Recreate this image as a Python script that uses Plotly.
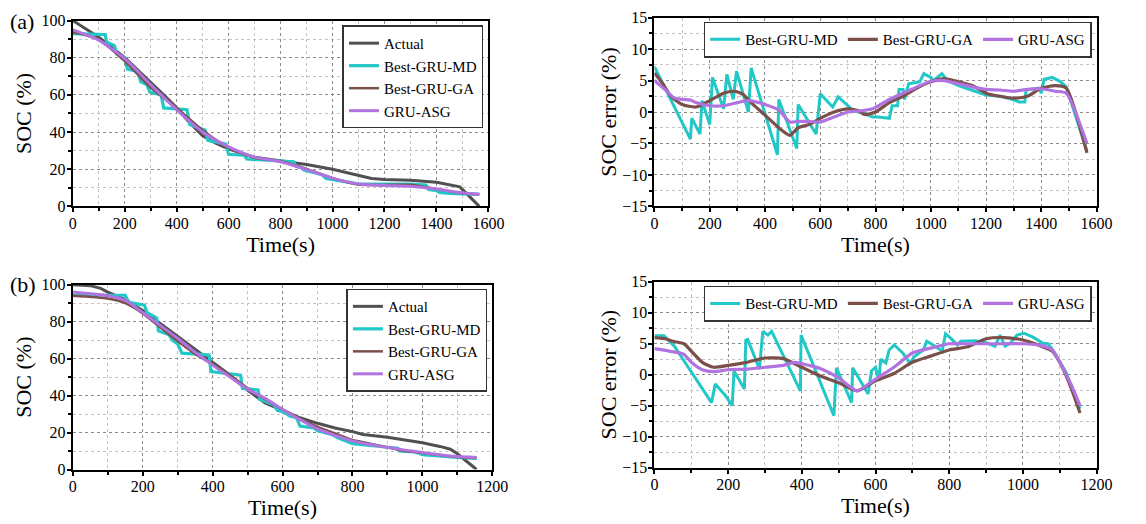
import plotly.graph_objects as go

# ---------------- Panel (a) SOC ----------------
a_act_t = [0, 100, 200, 300, 350, 400, 450, 500, 550, 600, 650, 700, 800, 900, 1000, 1100, 1150, 1200, 1300, 1400, 1490, 1565]
a_act_v = [100, 91, 80, 67, 60, 53, 45, 38, 34, 31, 28.5, 26.5, 24.5, 22.5, 20, 16.5, 15, 14.5, 14, 13, 10.5, 0]

a_md_t = [0, 125, 130, 160, 170, 200, 210, 250, 262, 285, 297, 340, 350, 440, 450, 510, 520, 590, 600, 660, 670, 750, 800, 850, 860, 880, 890, 920, 960, 975, 1000, 1040, 1060, 1100, 1200, 1300, 1360, 1370, 1400, 1410, 1450, 1500, 1565]
a_md_v = [93, 92.5, 88.5, 86.5, 82, 80, 74, 72.5, 67, 65.5, 61.5, 60, 53, 52, 44, 41, 35.5, 33.5, 28, 27.5, 25.5, 25, 24.5, 24, 21.5, 21, 19.5, 18.5, 17, 15, 14.5, 13.5, 13, 12, 12, 12, 11.5, 9, 8.5, 7.5, 7, 6.8, 6.5]

a_ga_t = [0, 100, 200, 300, 400, 500, 600, 700, 800, 900, 1000, 1100, 1200, 1300, 1400, 1490, 1565]
a_ga_v = [93.8, 89.8, 78.2, 64, 53, 41, 31.5, 26.2, 24.3, 20.2, 15.2, 11.7, 11.5, 11.6, 9.3, 7.2, 6.5]

a_asg_t = [0, 100, 200, 300, 400, 500, 600, 700, 800, 900, 1000, 1100, 1200, 1300, 1400, 1490, 1565]
a_asg_v = [95, 89.5, 79.5, 65.5, 52, 40, 32, 26.5, 24, 19.8, 15.2, 12, 11.2, 10.8, 9.3, 7.5, 6.5]

# ---------------- Panel (a) SOC error ----------------
ae_md_t = [0, 130, 135, 165, 172, 200, 210, 250, 262, 285, 297, 340, 350, 445, 450, 515, 520, 585, 600, 645, 665, 720, 760, 790, 810, 850, 860, 880, 885, 900, 905, 920, 960, 975, 1000, 1010, 1040, 1060, 1100, 1150, 1200, 1250, 1280, 1320, 1340, 1345, 1390, 1400, 1410, 1440, 1470, 1490, 1565]
ae_md_v = [7.2, -4.3, -1.0, -3.5, 1.8, -2.0, 5.5, 0.5, 6.0, 2.0, 6.5, 0.0, 7.0, -6.8, 2.0, -5.8, 1.2, -3.5, 2.9, 0.8, 2.4, 0.2, -0.3, -0.8, -0.8, -1.0, 1.0, 1.0, 3.6, 3.6, 2.0, 4.5, 4.8, 6.1, 5.5, 5.0, 6.1, 5.0, 4.2, 3.5, 2.7, 2.5, 2.2, 1.6, 1.6, 3.5, 3.8, 3.0, 5.2, 5.5, 4.8, 4.0, -6.2]

ae_ga_t = [0, 30, 60, 100, 150, 200, 250, 290, 320, 350, 400, 450, 490, 520, 560, 600, 650, 700, 740, 760, 800, 850, 900, 950, 1000, 1050, 1100, 1150, 1200, 1250, 1300, 1350, 1400, 1450, 1490, 1565]
ae_ga_v = [6.2, 4.5, 2.5, 1.2, 0.8, 1.8, 3.0, 3.3, 2.8, 1.5, -0.5, -2.5, -3.7, -2.5, -2.0, -1.0, 0.0, 0.5, 0.2, -0.4, 0.0, 1.5, 2.5, 3.8, 4.8, 5.3, 4.8, 4.2, 3.0, 2.5, 2.2, 2.5, 3.8, 4.2, 3.8, -6.5]

ae_asg_t = [0, 40, 70, 100, 130, 150, 200, 250, 300, 340, 400, 450, 490, 520, 560, 600, 650, 700, 750, 790, 850, 900, 950, 1000, 1050, 1100, 1150, 1200, 1250, 1300, 1350, 1400, 1450, 1490, 1565]
ae_asg_v = [5.0, 3.5, 2.3, 2.0, 1.9, 1.5, 1.0, 1.0, 1.5, 1.8, 1.2, 0.3, -1.6, -1.5, -1.5, -1.6, -0.8, 0.0, 0.2, 0.5, 2.0, 3.0, 4.0, 4.9, 5.0, 4.5, 4.0, 3.6, 3.5, 3.3, 3.6, 3.7, 3.3, 3.0, -5.0]

# ---------------- Panel (b) SOC ----------------
b_act_t = [0, 50, 80, 100, 150, 200, 250, 300, 350, 400, 450, 500, 550, 600, 650, 700, 750, 800, 830, 850, 900, 950, 1000, 1050, 1080, 1100, 1130, 1155]
b_act_v = [100, 99.5, 98, 96, 92, 86, 79, 72, 65, 58, 51, 43, 36, 32, 28, 25, 22.5, 20.5, 19, 18.5, 17.5, 16, 14.5, 12.5, 11, 8.5, 4, 0]

b_md_t = [0, 150, 160, 205, 212, 240, 245, 275, 285, 300, 312, 390, 395, 480, 485, 530, 535, 575, 585, 605, 620, 640, 650, 690, 700, 740, 760, 790, 800, 850, 900, 930, 935, 980, 1000, 1050, 1100, 1155]
b_md_v = [94.3, 94.3, 90.5, 89, 85, 82, 75, 73, 70, 68, 63, 62, 53, 51, 44, 43, 38, 35, 32, 31, 29, 28, 23.5, 22.5, 21, 19, 17, 15, 14, 13, 12, 11.5, 10, 9.5, 8, 7.2, 6.5, 6]

b_ga_t = [0, 100, 150, 200, 250, 300, 350, 400, 450, 500, 550, 600, 650, 700, 750, 800, 850, 900, 950, 1000, 1050, 1100, 1155]
b_ga_v = [94, 92.5, 90, 84.5, 77, 69.5, 62.5, 57, 51, 44, 38, 32.5, 27.5, 23, 19.5, 16, 14, 12, 10, 9, 7.8, 6.8, 6.2]

b_asg_t = [0, 100, 150, 200, 250, 300, 350, 400, 450, 500, 550, 600, 650, 700, 750, 800, 850, 900, 950, 1000, 1050, 1100, 1155]
b_asg_v = [96, 94, 91.5, 85, 78, 71, 63.5, 56.5, 50, 43.5, 38.5, 32.5, 27, 22, 18.5, 15.5, 13.5, 12, 10.5, 9.2, 8, 7, 6.5]

# ---------------- Panel (b) SOC error ----------------
be_md_t = [0, 26, 54, 155, 165, 193, 211, 216, 244, 248, 253, 285, 294, 308, 318, 396, 398, 487, 494, 535, 538, 580, 589, 600, 609, 614, 628, 637, 651, 674, 693, 707, 730, 739, 762, 781, 790, 804, 822, 831, 869, 896, 924, 938, 952, 966, 984, 1003, 1026, 1054, 1068, 1081, 1118, 1155]
be_md_v = [6.3, 6.3, 4.6, -4.5, -1.5, -3.4, -5.0, 0.6, -2.3, 5.6, 5.7, 0.9, 7.0, 6.4, 7.0, -2.6, 6.4, -6.6, 1.1, -4.5, 1.1, -3.1, 0.6, 1.2, -1.0, 2.5, 1.9, 4.0, 4.8, 3.5, 1.9, 3.0, 4.0, 5.4, 4.6, 3.8, 6.6, 5.9, 4.8, 5.4, 5.5, 5.3, 4.6, 6.4, 4.6, 5.1, 6.4, 6.7, 6.1, 5.1, 5.0, 4.0, 0.3, -5.5]

be_ga_t = [0, 30, 50, 80, 100, 130, 160, 200, 250, 300, 350, 400, 450, 500, 550, 600, 650, 700, 750, 800, 850, 900, 950, 1000, 1050, 1080, 1100, 1130, 1155]
be_ga_v = [6.0, 5.8, 5.4, 5.0, 3.8, 2.0, 1.2, 1.5, 2.0, 2.7, 2.6, 1.2, -0.2, -1.3, -2.6, -1.0, 0.2, 2.0, 3.0, 4.0, 4.5, 5.8, 6.0, 5.6, 4.6, 3.8, 2.0, -2.0, -6.2]

be_asg_t = [0, 40, 80, 100, 130, 160, 200, 250, 300, 350, 380, 420, 450, 500, 550, 600, 650, 700, 750, 800, 850, 900, 950, 1000, 1050, 1080, 1100, 1130, 1155]
be_asg_v = [4.2, 3.8, 3.3, 2.0, 0.8, 0.5, 0.8, 0.9, 1.2, 1.5, 2.0, 1.5, 1.0, -0.5, -2.6, -0.7, 1.2, 3.5, 4.3, 5.0, 5.0, 5.0, 5.0, 5.0, 4.7, 4.0, 2.0, -1.5, -5.0]

names = ["Actual", "Best-GRU-MD", "Best-GRU-GA", "GRU-ASG"]
colors = ["#505050", "#22C7C7", "#7B4F4A", "#B073E0"]
FONT = "Liberation Serif"

W, H = 1146, 524

def fx(px):
    return px / W

def fy(py):
    return 1 - py / H

fig = go.Figure()

def add(x, y, i, xa, ya, leg, smooth=False, w=3):
    fig.add_trace(go.Scatter(
        x=x, y=y, mode="lines", name=names[i],
        line=dict(color=colors[i], width=w, shape="spline" if smooth else "linear", smoothing=0.6),
        xaxis=xa, yaxis=ya, legend=leg))

# (a) SOC
add(a_act_t, a_act_v, 0, "x", "y", "legend")
add(a_md_t, a_md_v, 1, "x", "y", "legend", w=3.2)
add(a_ga_t, a_ga_v, 2, "x", "y", "legend", smooth=True, w=2.5)
add(a_asg_t, a_asg_v, 3, "x", "y", "legend", smooth=True)
# (a) error
add(ae_md_t, ae_md_v, 1, "x2", "y2", "legend2")
add(ae_ga_t, ae_ga_v, 2, "x2", "y2", "legend2", smooth=True, w=3.2)
add(ae_asg_t, ae_asg_v, 3, "x2", "y2", "legend2", smooth=True, w=3.2)
# (b) SOC
add(b_act_t, b_act_v, 0, "x3", "y3", "legend3")
add(b_md_t, b_md_v, 1, "x3", "y3", "legend3", w=3.2)
add(b_ga_t, b_ga_v, 2, "x3", "y3", "legend3", smooth=True, w=2.5)
add(b_asg_t, b_asg_v, 3, "x3", "y3", "legend3", smooth=True)
# (b) error
add(be_md_t, be_md_v, 1, "x4", "y4", "legend4")
add(be_ga_t, be_ga_v, 2, "x4", "y4", "legend4", smooth=True, w=3.2)
add(be_asg_t, be_asg_v, 3, "x4", "y4", "legend4", smooth=True, w=3.2)

def common(dom, anchor, rng, dt, minor_step):
    return dict(domain=dom, anchor=anchor, range=rng, dtick=dt, tick0=0,
                showline=True, mirror=True, linecolor="black", linewidth=2,
                ticks="outside", ticklen=4, tickwidth=2, tickcolor="black",
                showgrid=True, gridcolor="#8a8a8a", griddash="dot", gridwidth=1,
                minor=dict(dtick=minor_step, ticks="outside", ticklen=3, tickwidth=1.5, tickcolor="black",
                           showgrid=True, gridcolor="#c4c4c4", griddash="dot", gridwidth=1),
                zeroline=False, tickfont=dict(family=FONT, size=16, color="black"))

def xax(dom, anchor, rng):
    d = common(dom, anchor, rng, 200, 100)
    d["ticklabelstandoff"] = -3
    d["title"] = dict(text="Time(s)", font=dict(family=FONT, size=22, color="black"), standoff=5)
    return d

def yax(dom, anchor, rng, dt, minor_step, title, standoff):
    d = common(dom, anchor, rng, dt, minor_step)
    d["ticklabelstandoff"] = -2
    d["title"] = dict(text=title, font=dict(family=FONT, size=22, color="black"), standoff=standoff)
    return d

XL_T = [fx(70), fx(493)]
XL_B = [fx(70), fx(497)]
XR = [fx(662), fx(1112)]
YT_L = [fy(205), fy(13)]
YT_R = [fy(205), fy(10)]
YB_L = [fy(477), fy(286)]
YB_R = [fy(475), fy(283)]

def legbox(xr, yt, horiz=False):
    d = dict(x=fx(xr), y=fy(yt), xref="paper", yref="paper", xanchor="right", yanchor="top",
             bgcolor="white", bordercolor="#333333", borderwidth=1.5,
             font=dict(family=FONT, size=15, color="black"),
             tracegroupgap=0, itemwidth=30)
    if horiz:
        d["orientation"] = "h"
    return d

fig.update_layout(
    width=W, height=H,
    margin=dict(l=0, r=0, t=0, b=0),
    paper_bgcolor="white", plot_bgcolor="white",
    font=dict(family=FONT, color="black"),
    xaxis=xax(XL_T, "y", [0, 1600]),
    yaxis=yax(YT_L, "x", [0, 100], 20, 10, "SOC (%)", 4),
    xaxis2=xax(XR, "y2", [0, 1600]),
    yaxis2=yax(YT_R, "x2", [-15, 15], 5, 2.5, "SOC error (%)", 0),
    xaxis3=xax(XL_B, "y3", [0, 1200]),
    yaxis3=yax(YB_L, "x3", [0, 100], 20, 10, "SOC (%)", 4),
    xaxis4=xax(XR, "y4", [0, 1200]),
    yaxis4=yax(YB_R, "x4", [-15, 15], 5, 2.5, "SOC error (%)", 0),
    legend=legbox(488, 18),
    legend2=legbox(1107, 14, horiz=True),
    legend3=legbox(492, 290),
    legend4=legbox(1107, 287, horiz=True),
    annotations=[
        dict(text="(a)", x=fx(4), y=fy(14), xref="paper", yref="paper", xanchor="left", yanchor="middle",
             showarrow=False, font=dict(family=FONT, size=22, color="black")),
        dict(text="(b)", x=fx(4), y=fy(286), xref="paper", yref="paper", xanchor="left", yanchor="middle",
             showarrow=False, font=dict(family=FONT, size=22, color="black")),
    ],
)

fig.write_html("out.html", config={"displayModeBar": False},
               post_script="document.body.style.margin='0px';")
